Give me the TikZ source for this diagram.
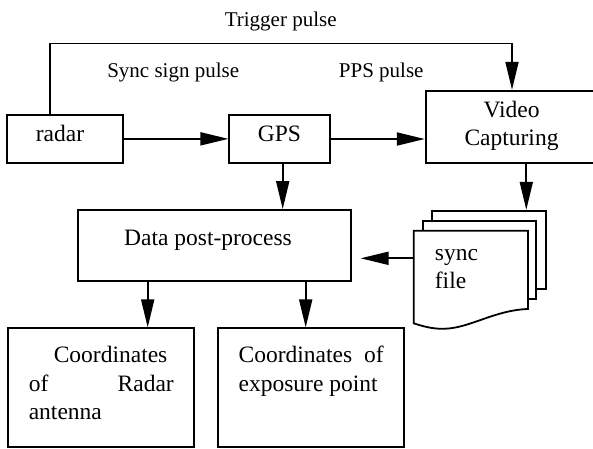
\documentclass[tikz,border=0pt]{standalone}
\usepackage{fontspec}
\setmainfont{Liberation Serif}
\usetikzlibrary{arrows.meta}

\begin{document}
\begin{tikzpicture}[x=1pt,y=-1pt,
  box/.style={draw, line width=1.8pt, inner sep=0pt,
    font=\fontsize{23.5}{28.5}\selectfont, text height=16pt},
  sheet/.style={draw, fill=white, line width=1.8pt, inner sep=0pt},
  lbl/.style={inner sep=0pt, anchor=base, font=\fontsize{21}{25}\selectfont},
  arr/.style={line width=1.8pt, -{Triangle[length=28pt,width=13pt]}},
  line/.style={line width=1.8pt}
]
\useasboundingbox (0,0) rectangle (593,448);

% processing blocks
\node[box, minimum width=116pt, minimum height=47.7pt, text depth=10.3pt]
  (radar) at (65.3,138.85) {\hspace*{-10.6pt}radar};
\node[box, minimum width=100.4pt, minimum height=48pt, text depth=10.6pt]
  (gps) at (279.5,139) {GPS};
\node[box, minimum width=171.6pt, minimum height=72pt, text depth=34.8pt]
  (video) at (511.5,126.7) {\parbox[t]{120pt}{\centering Video\\Capturing}};
\node[box, minimum width=273pt, minimum height=70.7pt, text depth=15.7pt]
  (data) at (214.2,245.35) {\hspace*{-12.4pt}Data post-process};
\node[box, minimum width=186pt, minimum height=119pt, text depth=66pt]
  (coordA) at (101.3,387.8)
  {\parbox[t]{145pt}{\hspace*{25pt}Coordinates\\of\hfill Radar\\antenna}};
\node[box, minimum width=185.7pt, minimum height=119pt, text depth=66pt]
  (coordB) at (311.15,387.8)
  {\parbox[t]{145pt}{Coordinates\hfill of\\exposure point}};

% stack of sync files
\node[sheet, minimum width=114.3pt, minimum height=78.6pt] (back) at (489.15,250) {};
\node[sheet, minimum width=113.3pt, minimum height=78.6pt] (middle) at (479.65,260) {};
\coordinate (fTL) at (413.7,230.7);
\coordinate (fTR) at (528,230.7);
\coordinate (fBR) at (528,309);
\coordinate (fBL) at (413.7,323.3);
\draw[line, fill=white] (fTL) -- (fTR) -- (fBR)
  .. controls (495,310) and (470,328) .. (445,328.7)
  .. controls (436,329) and (428,328) .. (fBL) -- cycle;
\node[inner sep=0pt, anchor=base west, font=\fontsize{23.5}{28}\selectfont]
  (synct) at (434.7,260.7) {\parbox[t]{60pt}{sync\\file}};

% signal labels
\node[lbl] (trig) at (280.7,26) {Trigger pulse};
\node[lbl] (syncp) at (173.2,77.3) {Sync sign pulse};
\node[lbl] (pps) at (381.2,77.3) {PPS pulse};

% connectors
\coordinate (trigL) at (50,43.5);
\coordinate (trigR) at (512,43.5);
\draw[arr] (radar.north -| trigL) -- (trigL) -- (trigR) -- (trigR |- video.north);
\draw[arr] (radar.east) -- (radar.east -| gps.west);
\draw[arr] (gps.east) -- (gps.east -| video.west);

\coordinate (xg) at (282.7,0);
\coordinate (xv) at (526.3,0);
\coordinate (xa) at (147.7,0);
\coordinate (xb) at (305.7,0);
\coordinate (fL) at (413.7,258.3);
\draw[arr] (gps.south -| xg) -- (data.north -| xg);
\draw[arr] (video.south -| xv) -- (back.north -| xv);
\draw[arr, shorten >=9pt] (fL) -- (fL -| data.east);
\draw[arr] (data.south -| xa) -- (coordA.north -| xa);
\draw[arr] (data.south -| xb) -- (coordB.north -| xb);
\end{tikzpicture}
\end{document}
